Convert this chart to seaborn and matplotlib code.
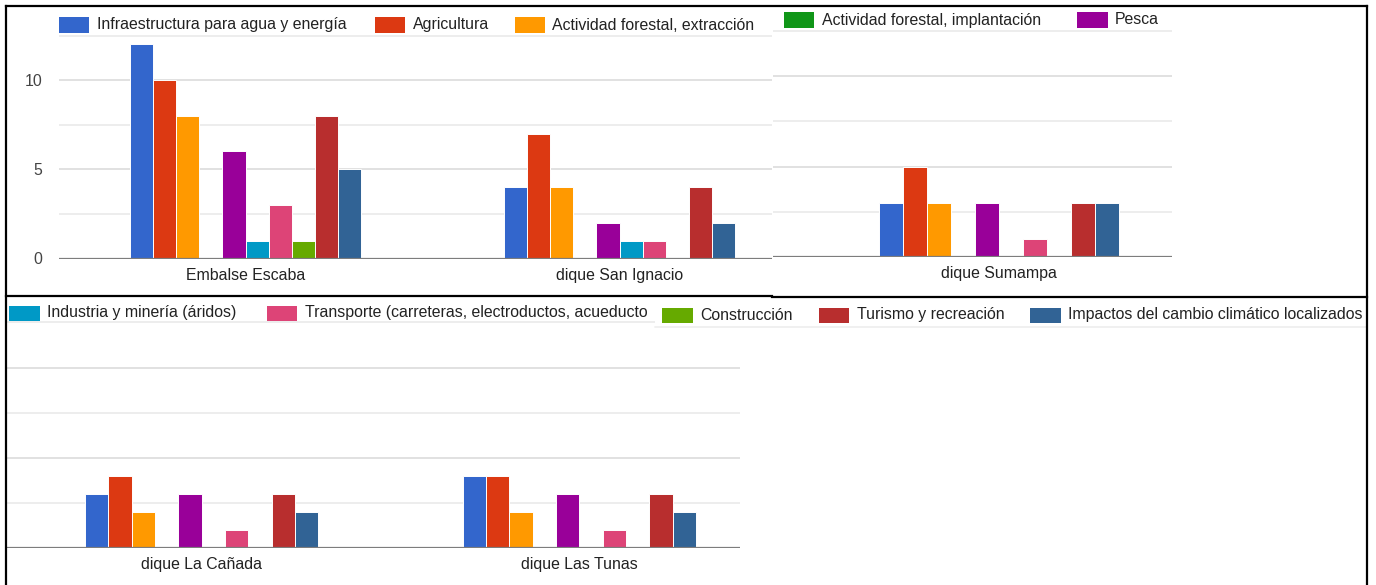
import matplotlib
matplotlib.use("Agg")
import matplotlib.pyplot as plt
from matplotlib.patches import Rectangle
from matplotlib.lines import Line2D
import pandas as pd
import seaborn as sns

# --- data -------------------------------------------------------------
EMBALSES = ["Embalse Escaba", "dique San Ignacio", "dique Sumampa",
            "dique La Cañada", "dique Las Tunas"]

ACTIVIDADES = [
    "Infraestructura para agua y energía",
    "Agricultura",
    "Actividad forestal, extracción",
    "Actividad forestal, implantación",
    "Pesca",
    "Industria y minería (áridos)",
    "Transporte (carreteras, electroductos, acueducto",
    "Construcción",
    "Turismo y recreación",
    "Impactos del cambio climático localizados",
]

COLORES = ["#3366cc", "#dc3912", "#ff9900", "#109618", "#990099",
           "#0099c6", "#dd4477", "#66aa00", "#b82e2e", "#316395"]

infraestructura = [12, 4, 3, 3, 4]
agricultura = [10, 7, 5, 4, 4]
forestal_extraccion = [8, 4, 3, 2, 2]
forestal_implantacion = [0, 0, 0, 0, 0]
pesca = [6, 2, 3, 3, 3]
industria = [1, 1, 0, 0, 0]
transporte = [3, 1, 1, 1, 1]
construccion = [1, 0, 0, 0, 0]
turismo = [8, 4, 3, 3, 3]
impactos = [5, 2, 3, 2, 2]

SERIES = [infraestructura, agricultura, forestal_extraccion,
          forestal_implantacion, pesca, industria, transporte,
          construccion, turismo, impactos]

Y_TICKS = [0, 5, 10]
Y_TICK_LABELS = ["0", "5", "10"]

df = pd.DataFrame(
    [(emb, act, vals[i])
     for act, vals in zip(ACTIVIDADES, SERIES)
     for i, emb in enumerate(EMBALSES)],
    columns=["embalse", "actividad", "valor"],
)

# --- style ------------------------------------------------------------
sns.set_theme(style="white")
plt.rcParams["font.family"] = ["Liberation Sans", "DejaVu Sans"]
FS = 11.4
TXT = "#222222"

W, H = 1376, 585
fig = plt.figure(figsize=(W / 100, H / 100), dpi=100)
fig.patch.set_facecolor("white")


def fx(x):
    return x / W


def fy(y):
    return 1 - y / H


def panel(embalses, x0, x1, base, pxu, center0, spacing, show_y):
    top = base - 12.7 * pxu
    ax = fig.add_axes([fx(x0), fy(base), (x1 - x0) / W, (base - top) / H])
    ax.patch.set_visible(False)
    sub = df[df["embalse"].isin(embalses)]
    sns.barplot(data=sub, x="embalse", y="valor", hue="actividad",
                order=embalses, hue_order=ACTIVIDADES, palette=COLORES,
                width=0.618, saturation=1, errorbar=None, legend=False,
                edgecolor="white", linewidth=0.7, ax=ax)
    ax.set_xlim((x0 - center0) / spacing, (x1 - center0) / spacing)
    ax.set_ylim(0, 12.7)
    ax.set_xlabel("")
    ax.set_ylabel("")
    for s in ax.spines.values():
        s.set_visible(False)
    ax.set_yticks(Y_TICKS)
    ax.set_yticks([2.5, 7.5, 12.5], minor=True)
    ax.set_yticklabels(Y_TICK_LABELS if show_y else [])
    ax.grid(axis="y", which="major", color="#dedede", lw=1.3, zorder=0)
    ax.grid(axis="y", which="minor", color="#ececec", lw=1.3, zorder=0)
    ax.set_axisbelow(True)
    ax.axhline(0, color="#7d7d7d", lw=1.6, zorder=5)
    ax.tick_params(axis="y", which="both", length=0, pad=12,
                   labelsize=FS, labelcolor="#444444")
    ax.tick_params(axis="x", length=0, pad=6.5, labelsize=FS,
                   labelcolor=TXT)
    return ax


panel(EMBALSES[0:2], 58.7, 772, 258.5, 17.84, 245.5, 374.0, True)
panel(EMBALSES[2:3], 773, 1172, 257.3, 18.13, 999.0, 388.0, False)
panel(EMBALSES[3:5], 6, 740, 548.3, 18.08, 201.7, 377.7, False)

# --- legends ----------------------------------------------------------
# white strip behind the lower right legend row, with its faint rule
fig.patches.append(Rectangle((fx(655), fy(326)), (1366 - 655) / W, 29 / H,
                             transform=fig.transFigure, facecolor="white",
                             edgecolor="none", zorder=1))
fig.lines.append(Line2D([fx(655), fx(1366)], [fy(327), fy(327)],
                        transform=fig.transFigure, color="#efefef", lw=1.3))

legend_rows = [
    (25.0, [(58.7, 0), (374.5, 1), (514.5, 2)]),
    (20.0, [(784.0, 3), (1077.0, 4)]),
    (313.0, [(9.0, 5), (266.6, 6)]),
    (315.0, [(662.0, 7), (819.0, 8), (1030.0, 9)]),
]
for yc, items in legend_rows:
    for xs, k in items:
        fig.patches.append(Rectangle((fx(xs), fy(yc + 7.5)), 30.5 / W, 15 / H,
                                     transform=fig.transFigure,
                                     facecolor=COLORES[k], edgecolor="none",
                                     zorder=4))
        fig.text(fx(xs + 38), fy(yc), ACTIVIDADES[k], fontsize=FS,
                 color=TXT, va="center", ha="left", zorder=5)

# --- frame lines ------------------------------------------------------
frame = dict(transform=fig.transFigure, color="black", lw=1.6, zorder=10,
             solid_capstyle="projecting")
fig.lines.append(Line2D([fx(5.5), fx(1366.5)], [fy(6), fy(6)], **frame))
fig.lines.append(Line2D([fx(5.5), fx(5.5)], [fy(6), fy(585)], **frame))
fig.lines.append(Line2D([fx(1366.5), fx(1366.5)], [fy(6), fy(585)], **frame))
fig.lines.append(Line2D([fx(5.5), fx(772)], [fy(295.5), fy(295.5)], **frame))
fig.lines.append(Line2D([fx(772), fx(1366.5)], [fy(296.5), fy(296.5)], **frame))

fig.savefig("out.png", dpi=100, facecolor="white")
